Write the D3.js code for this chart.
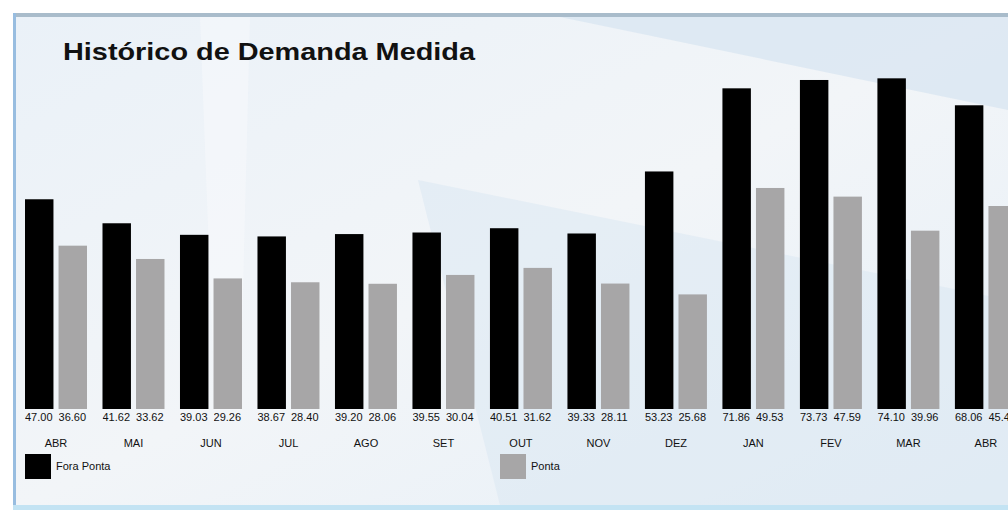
<!DOCTYPE html>
<html>
<head>
<meta charset="utf-8">
<script src="https://cdn.jsdelivr.net/npm/d3@7"></script>
<style>
  body { margin: 0; background: #fff; }
  text { font-family: "Liberation Sans", Arial, sans-serif; }
</style>
</head>
<body>
<div id="chart"></div>
<script>
// dados
let meses = ["ABR","MAI","JUN","JUL","AGO","SET","OUT","NOV","DEZ","JAN","FEV","MAR","ABR"];
let foraPonta = [47.00, 41.62, 39.03, 38.67, 39.20, 39.55, 40.51, 39.33, 53.23, 71.86, 73.73, 74.10, 68.06];
let ponta = [36.60, 33.62, 29.26, 28.40, 28.06, 30.04, 31.62, 28.11, 25.68, 49.53, 47.59, 39.96, 45.49];
let series = ["Fora Ponta", "Ponta"];
let cores = ["#000000", "#a7a6a7"];

let width = 1008, height = 510;

let svg = d3.select("#chart")
    .append("svg")
        .attr("width", width)
        .attr("height", height);

// fundo do painel
let defs = svg.append("defs");
let grad = defs.append("linearGradient").attr("id", "bg")
    .attr("x1", "0").attr("y1", "0").attr("x2", "1").attr("y2", "1");
grad.append("stop").attr("offset", "0").attr("stop-color", "#eaf1f8");
grad.append("stop").attr("offset", "0.5").attr("stop-color", "#f2f5f8");
grad.append("stop").attr("offset", "1").attr("stop-color", "#e6eff7");

svg.append("rect")
    .attr("x", 13).attr("y", 14)
    .attr("width", width - 13).attr("height", 496)
    .attr("fill", "url(#bg)");

// formas diagonais
svg.append("path")
    .attr("d", "M560,17 L1008,17 L1008,110 Z")
    .attr("fill", "#d9e6f1").attr("opacity", 0.8);
svg.append("path")
    .attr("d", "M200,17 L250,17 L240,410 L215,410 Z")
    .attr("fill", "#f7f9fb").attr("opacity", 0.6);
svg.append("path")
    .attr("d", "M418,180 L1008,300 L1008,505 L500,505 Z")
    .attr("fill", "#dbe7f2").attr("opacity", 0.55);

// bordas
svg.append("rect").attr("x", 13).attr("y", 13).attr("width", width - 13).attr("height", 4).attr("fill", "#a9bccb");
svg.append("rect").attr("x", 13).attr("y", 13).attr("width", 3).attr("height", 497).attr("fill", "#98bde0");
svg.append("rect").attr("x", 13).attr("y", 505).attr("width", width - 13).attr("height", 5).attr("fill", "#c3e3f3");

// titulo
svg.append("text")
    .attr("x", 63).attr("y", 60)
    .attr("font-size", "24px")
    .attr("font-weight", "bold")
    .attr("fill", "#111")
    .attr("textLength", 412)
    .attr("lengthAdjust", "spacingAndGlyphs")
    .text("Histórico de Demanda Medida");

// escalas
let x0 = d3.scaleBand()
    .domain(d3.range(meses.length))
    .range([25, 25 + 76.3 * meses.length])
    .paddingInner(0.2)
    .paddingOuter(0)
    .align(0);

let x1 = d3.scaleBand()
    .domain(series)
    .range([0, x0.bandwidth()])
    .paddingInner(5 / 33);

let y = d3.scaleLinear()
    .domain([0, 80])
    .range([409, 52]);

let dados = meses.map(function(m, i) {
    return { i: i, mes: m, valores: [foraPonta[i], ponta[i]] };
});

let grupos = svg.selectAll(".grupo")
    .data(dados)
    .enter()
    .append("g")
        .attr("class", "grupo")
        .attr("transform", function(d) { return "translate(" + x0(d.i) + ",0)"; });

// barras
grupos.selectAll("rect")
    .data(function(d) { return d.valores.map(function(v, k) { return { s: series[k], v: v, k: k, i: d.i }; }); })
    .enter()
    .append("rect")
        .attr("x", function(d) { return x1(d.s); })
        .attr("y", function(d) { return y(d.v); })
        .attr("width", x1.bandwidth())
        .attr("height", function(d) { return y(0) - y(d.v); })
        .attr("fill", function(d) { return cores[d.k]; });

// clip dos rotulos (cortados na largura da barra)
dados.forEach(function(d) {
    series.forEach(function(s, k) {
        defs.append("clipPath").attr("id", "c" + d.i + "_" + k)
            .append("rect")
                .attr("x", x0(d.i) + x1(s))
                .attr("y", 405)
                .attr("width", x1.bandwidth() + 1)
                .attr("height", 20);
    });
});

// rotulos de valor
dados.forEach(function(d) {
    d.valores.forEach(function(v, k) {
        svg.append("text")
            .attr("x", x0(d.i) + x1(series[k]))
            .attr("y", 421)
            .attr("font-size", "11px")
            .attr("fill", "#111")
            .attr("clip-path", "url(#c" + d.i + "_" + k + ")")
            .text(v.toFixed(2));
    });
});

// eixo x (meses)
let eixo = svg.append("g")
    .attr("transform", "translate(0,409)")
    .call(d3.axisBottom(x0).tickSize(0).tickPadding(0).tickFormat(function(i) { return meses[i]; }));
eixo.select(".domain").remove();
eixo.selectAll("text")
    .attr("y", 38)
    .attr("dy", 0)
    .attr("font-size", "11px")
    .attr("font-family", "Liberation Sans, Arial, sans-serif")
    .attr("fill", "#111");

// legenda
let legX = [25, 500];
series.forEach(function(s, k) {
    svg.append("rect")
        .attr("x", legX[k]).attr("y", 454)
        .attr("width", 26).attr("height", 25)
        .attr("fill", cores[k]);
    svg.append("text")
        .attr("x", legX[k] + 31).attr("y", 470)
        .attr("font-size", "11px")
        .attr("fill", "#111")
        .text(s);
});
</script>
</body>
</html>
